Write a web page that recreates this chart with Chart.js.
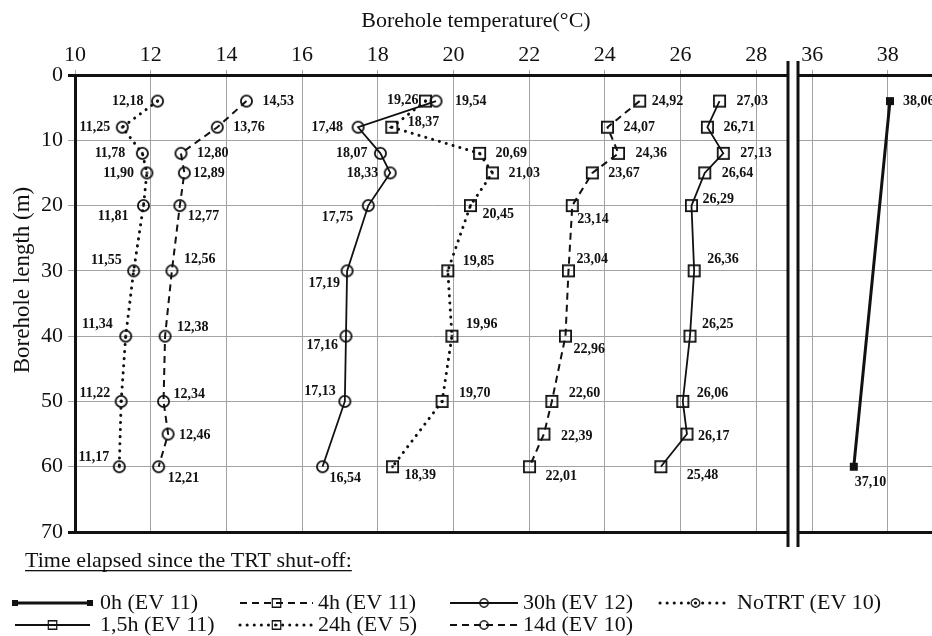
<!DOCTYPE html>
<html>
<head>
<meta charset="utf-8">
<script src="https://cdn.jsdelivr.net/npm/chart.js@4.4.1/dist/chart.umd.min.js"></script>
<style>
  body { margin: 0; background: #fff; }
  #wrap { position: relative; width: 932px; height: 636px; overflow: hidden; }
  #wrap canvas { position: absolute; left: 0; top: 0; }
</style>
</head>
<body>
<div id="wrap">
  <canvas id="mainChart" width="932" height="636"></canvas>
  <canvas id="sideChart" width="932" height="636"></canvas>
</div>
<script>
// depths (m) at which the probe was read
var depths = [4, 8, 12, 15, 20, 30, 40, 50, 55, 60];
var depthsNo55 = [4, 8, 12, 15, 20, 30, 40, 50, 60];
var depths0h = [4, 60];

// temperatures (°C)
var temp0h = [38.06, 37.10];
var temp1_5h = [27.03, 26.71, 27.13, 26.64, 26.29, 26.36, 26.25, 26.06, 26.17, 25.48];
var temp4h = [24.92, 24.07, 24.36, 23.67, 23.14, 23.04, 22.96, 22.60, 22.39, 22.01];
var temp24h = [19.26, 18.37, 20.69, 21.03, 20.45, 19.85, 19.96, 19.70, 18.39];
var temp30h = [19.54, 17.48, 18.07, 18.33, 17.75, 17.19, 17.16, 17.13, 16.54];
var tempNoTRT = [12.18, 11.25, 11.78, 11.90, 11.81, 11.55, 11.34, 11.22, 11.17];
var temp14d = [14.53, 13.76, 12.80, 12.89, 12.77, 12.56, 12.38, 12.34, 12.46, 12.21];

var seriesNames = ['0h (EV 11)', '1,5h (EV 11)', '4h (EV 11)', '24h (EV 5)', '30h (EV 12)', 'NoTRT (EV 10)', '14d (EV 10)'];

var xTicksMain = [10, 12, 14, 16, 18, 20, 22, 24, 26, 28];
var xTicksSide = [36, 38];
var yTicks = [0, 10, 20, 30, 40, 50, 60, 70];

// where each value label sits next to its point (dx<0 = left of point)
var off0h = [[13, 0], [1, 16]];
var off1_5h = [[17, 0], [16, 0], [17, 0], [17, 0], [11, -6], [13, -11], [12, -12], [14, -8], [11, 2], [26, 9]];
var off4h = [[12, 0], [16, 0], [17, 0], [16, 0], [5, 14], [8, -11], [8, 13], [17, -8], [17, 2], [16, 10]];
var off24h = [[-7, -1], [16, -5], [16, 0], [16, 0], [12, 9], [15, -9], [14, -12], [17, -8], [12, 9]];
var off30h = [[19, 0], [-15, 0], [-13, 0], [-12, 0], [-15, 12], [-7, 13], [-8, 9], [-9, -10], [7, 12]];
var offNoTRT = [[-14, 0], [-12, 0], [-17, 0], [-13, 0], [-15, 11], [-12, -10], [-13, -12], [-11, -8], [-10, -9]];
var off14d = [[16, 0], [16, 0], [16, 0], [9, 0], [8, 11], [12, -11], [12, -9], [10, -7], [11, 1], [9, 12]];

var FONT = '"Liberation Serif", "Times New Roman", serif';
var INK = '#111';
var GRID = '#a3a3a3';

Chart.defaults.font.family = FONT;
Chart.defaults.color = INK;

function pts(xs, ys) {
    return xs.map(function (x, i) { return { x: x, y: ys[i] }; });
}

function fmt(v) {
    return v.toFixed(2).replace('.', ',');
}

function makeMarker(shape, size, dot, fill) {
    var pad = 2, s = size + pad * 2;
    var c = document.createElement('canvas');
    c.width = s; c.height = s;
    var g = c.getContext('2d');
    g.strokeStyle = INK; g.fillStyle = INK; g.lineWidth = 1.8;
    if (shape === 'rect') {
        if (fill) g.fillRect(pad, pad, size, size);
        else g.strokeRect(pad + 0.9, pad + 0.9, size - 1.8, size - 1.8);
    } else {
        g.beginPath();
        g.arc(s / 2, s / 2, size / 2 - 0.9, 0, Math.PI * 2);
        g.stroke();
    }
    if (dot) {
        g.beginPath();
        g.arc(s / 2, s / 2, 1.4, 0, Math.PI * 2);
        g.fill();
    }
    return c;
}

var styles = [
    { borderWidth: 3, borderDash: [], pointStyle: makeMarker('rect', 8, false, true) },
    { borderWidth: 1.8, borderDash: [], pointStyle: makeMarker('rect', 13) },
    { borderWidth: 2, borderDash: [7, 5], pointStyle: makeMarker('rect', 13) },
    { borderWidth: 3, borderDash: [0.1, 7], borderCapStyle: 'round', pointStyle: makeMarker('rect', 13, true) },
    { borderWidth: 1.8, borderDash: [], pointStyle: makeMarker('circle', 13) },
    { borderWidth: 3, borderDash: [0.1, 7], borderCapStyle: 'round', pointStyle: makeMarker('circle', 13, true) },
    { borderWidth: 2, borderDash: [7, 5], pointStyle: makeMarker('circle', 13) }
];

function dataset(i, xs, ys, offsets) {
    return Object.assign({
        label: seriesNames[i],
        data: pts(xs, ys),
        showLine: true,
        borderColor: INK,
        backgroundColor: 'transparent',
        pointRadius: 6,
        pointHoverRadius: 6,
        tension: 0,
        fill: false,
        labelOffsets: offsets
    }, styles[i]);
}

var valueLabels = {
    id: 'valueLabels',
    afterDatasetsDraw: function (chart) {
        var ctx = chart.ctx;
        ctx.save();
        ctx.font = 'bold 14px ' + FONT;
        ctx.fillStyle = INK;
        ctx.textBaseline = 'middle';
        chart.data.datasets.forEach(function (ds, i) {
            chart.getDatasetMeta(i).data.forEach(function (pt, j) {
                var o = ds.labelOffsets[j];
                ctx.textAlign = o[0] < 0 ? 'right' : 'left';
                ctx.fillText(fmt(ds.data[j].x), pt.x + o[0], pt.y + o[1]);
            });
        });
        ctx.restore();
    }
};

function drawSample(ctx, st, x0, x1, y, ends) {
    ctx.save();
    ctx.strokeStyle = INK;
    ctx.lineWidth = st.borderWidth;
    ctx.lineCap = st.borderCapStyle || 'butt';
    ctx.setLineDash(st.borderDash);
    ctx.beginPath();
    ctx.moveTo(x0, y);
    ctx.lineTo(x1, y);
    ctx.stroke();
    ctx.restore();
    var m = st.pointStyle, w = m.width * 0.75;
    var xs = ends ? [x0, x1] : [(x0 + x1) / 2];
    xs.forEach(function (x) {
        ctx.drawImage(m, x - w / 2, y - w / 2, w, w);
    });
}

var decor = {
    id: 'decor',
    afterDraw: function (chart) {
        var ctx = chart.ctx;
        ctx.save();
        ctx.fillStyle = INK;
        ctx.font = '22px ' + FONT;
        ctx.textAlign = 'center';
        ctx.textBaseline = 'middle';
        ctx.fillText('Borehole temperature(°C)', 476, 21);

        ctx.save();
        ctx.font = '23px ' + FONT;
        ctx.translate(23, 280);
        ctx.rotate(-Math.PI / 2);
        ctx.fillText('Borehole length (m)', 0, 0);
        ctx.restore();

        // legend
        ctx.textAlign = 'left';
        var title = 'Time elapsed since the TRT shut-off:';
        ctx.fillText(title, 25, 561);
        var tw = ctx.measureText(title).width;
        ctx.fillRect(25, 570, tw, 1.3);

        var cols = [[15, 90, 100], [240, 313, 318], [450, 518, 523], [660, 731, 737]];
        var rows = [603, 625];
        var layout = [[0, 0, 0], [2, 0, 1], [4, 0, 2], [5, 0, 3], [1, 1, 0], [3, 1, 1], [6, 1, 2]];
        layout.forEach(function (it) {
            var c = cols[it[2]], y = rows[it[1]];
            drawSample(ctx, styles[it[0]], c[0], c[1], y, it[0] === 0);
            ctx.fillStyle = INK;
            ctx.fillText(seriesNames[it[0]], c[2], y);
        });
        ctx.restore();
    }
};

var breakLines = {
    id: 'breakLines',
    afterDraw: function (chart) {
        var a = chart.chartArea, ctx = chart.ctx;
        ctx.save();
        ctx.strokeStyle = INK;
        ctx.lineWidth = 3;
        [a.left - 10, a.left].forEach(function (x) {
            ctx.beginPath();
            ctx.moveTo(x, a.top - 14);
            ctx.lineTo(x, a.bottom + 15);
            ctx.stroke();
        });
        ctx.restore();
    }
};

function edgeColor(c) {
    return c.tick && (c.tick.value === 0 || c.tick.value === 70) ? INK : GRID;
}
function edgeWidth(c) {
    return c.tick && (c.tick.value === 0 || c.tick.value === 70) ? 3 : 1;
}
function fitTop(s) {
    s.height = 75;
    s.paddingLeft = 0;
    s.paddingRight = 0;
}

var mainChart = new Chart(document.getElementById('mainChart').getContext('2d'), {
    type: 'scatter',
    data: {
        datasets: [
            dataset(1, temp1_5h, depths, off1_5h),
            dataset(2, temp4h, depths, off4h),
            dataset(3, temp24h, depthsNo55, off24h),
            dataset(4, temp30h, depthsNo55, off30h),
            dataset(5, tempNoTRT, depthsNo55, offNoTRT),
            dataset(6, temp14d, depths, off14d)
        ]
    },
    options: {
        responsive: false,
        animation: false,
        events: [],
        layout: { autoPadding: false, padding: { left: 0, top: 0, right: 144, bottom: 104 } },
        plugins: { legend: { display: false }, tooltip: { enabled: false } },
        scales: {
            x: {
                type: 'linear', position: 'top', min: 10, max: 28.84,
                afterBuildTicks: function (s) { s.ticks = xTicksMain.map(function (v) { return { value: v }; }); },
                afterFit: fitTop,
                ticks: { font: { size: 22 }, color: INK, padding: 2 },
                grid: { color: GRID, lineWidth: 1, tickLength: 5 },
                border: { display: true, color: INK, width: 3 }
            },
            y: {
                type: 'linear', reverse: true, min: 0, max: 70,
                afterBuildTicks: function (s) { s.ticks = yTicks.map(function (v) { return { value: v }; }); },
                afterFit: function (s) { s.width = 75; },
                ticks: { font: { size: 22 }, color: INK, padding: 5 },
                grid: { color: edgeColor, lineWidth: edgeWidth, tickLength: 7 },
                border: { display: true, color: INK, width: 3 }
            }
        }
    },
    plugins: [valueLabels, decor]
});

var sideChart = new Chart(document.getElementById('sideChart').getContext('2d'), {
    type: 'scatter',
    data: {
        datasets: [dataset(0, temp0h, depths0h, off0h)]
    },
    options: {
        responsive: false,
        animation: false,
        events: [],
        layout: { autoPadding: false, padding: { left: 798, top: 0, right: 0, bottom: 104 } },
        plugins: { legend: { display: false }, tooltip: { enabled: false } },
        scales: {
            x: {
                type: 'linear', position: 'top', min: 35.62, max: 39.175,
                afterBuildTicks: function (s) { s.ticks = xTicksSide.map(function (v) { return { value: v }; }); },
                afterFit: fitTop,
                ticks: { font: { size: 22 }, color: INK, padding: 2 },
                grid: { color: GRID, lineWidth: 1, tickLength: 5 },
                border: { display: true, color: INK, width: 3 }
            },
            y: {
                type: 'linear', reverse: true, min: 0, max: 70,
                afterBuildTicks: function (s) { s.ticks = yTicks.map(function (v) { return { value: v }; }); },
                afterFit: function (s) { s.width = 0; },
                ticks: { display: false },
                grid: { color: edgeColor, lineWidth: edgeWidth, drawTicks: false },
                border: { display: false }
            }
        }
    },
    plugins: [valueLabels, breakLines]
});
</script>
</body>
</html>
